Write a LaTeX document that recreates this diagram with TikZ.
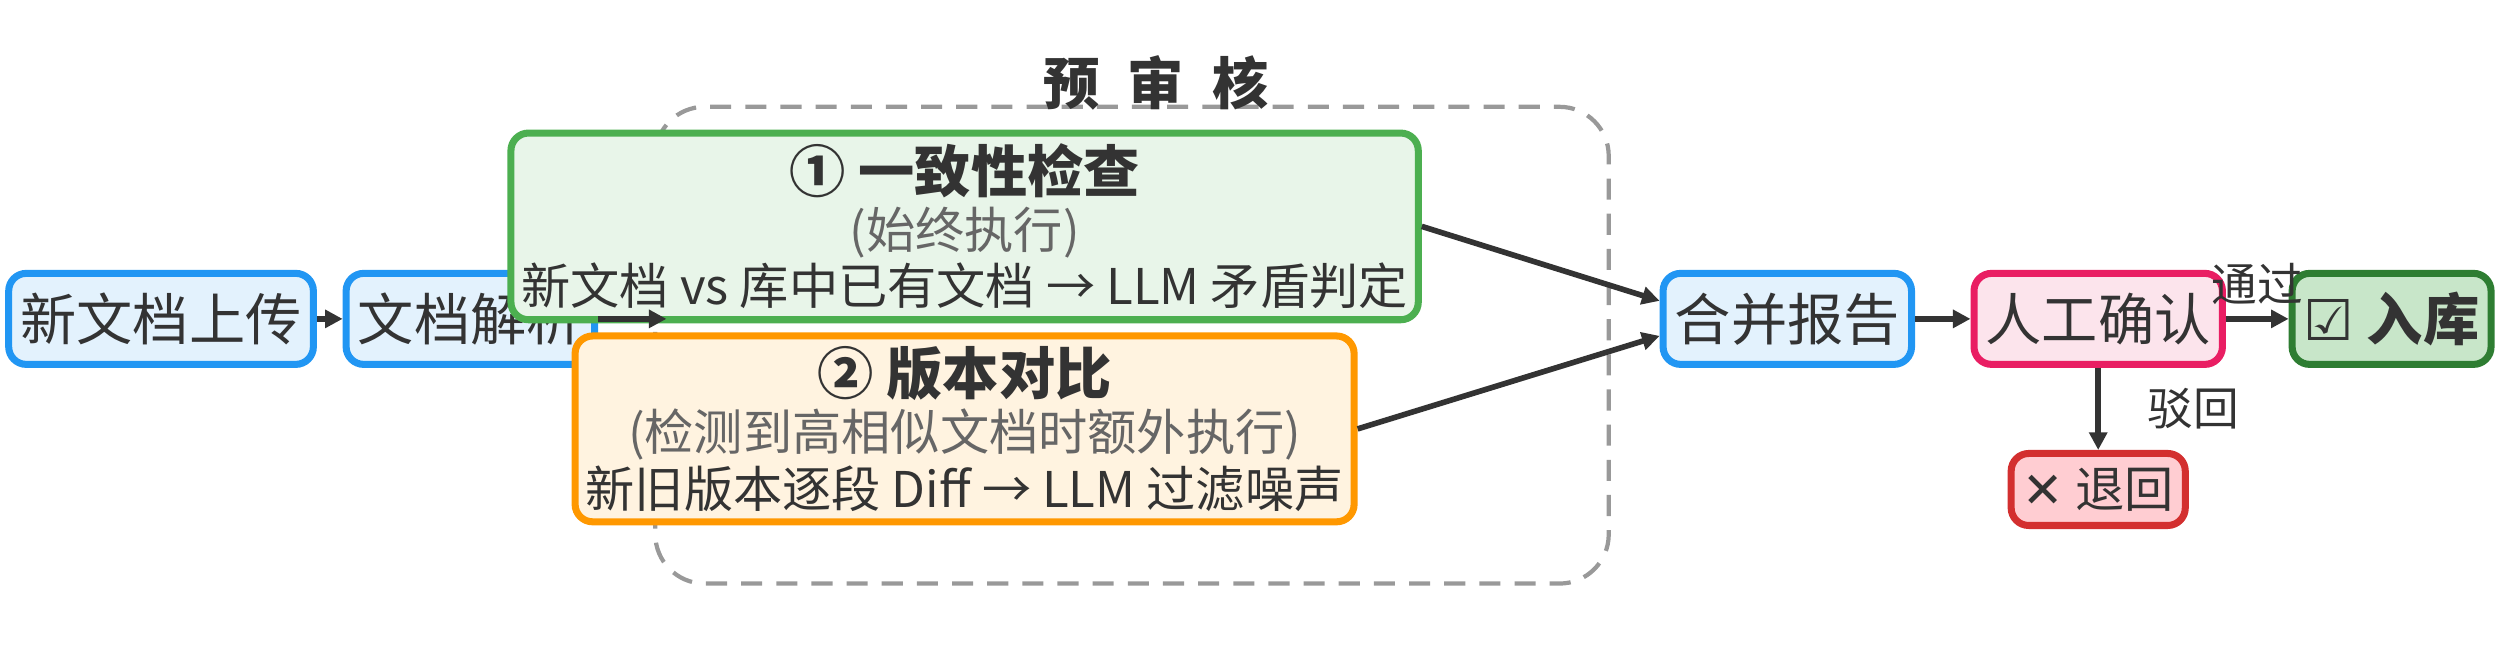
\documentclass[tikz,border=0pt]{standalone}
\usepackage{fontspec}
\setmainfont{Noto Sans CJK SC}
\newfontfamily\symfont{DejaVu Sans}
\usetikzlibrary{positioning,arrows.meta}
\definecolor{txtColor}{HTML}{333333}
\definecolor{subColor}{HTML}{666666}
\tikzset{>=Triangle,
  box/.style={draw, line width=2pt, rounded corners=5pt, align=center, text=txtColor, font=\fontsize{10}{12}\selectfont},
  flow/.style={->, line width=1.6pt, draw=txtColor, >={Triangle[length=5pt,width=5pt]}},
  lbl/.style={text=txtColor, font=\fontsize{8}{10}\selectfont}}
\begin{document}
\begin{tikzpicture}[x=1.594cm,y=1.594cm,every node/.style={transform shape},scale=1]
	\useasboundingbox (0,0) rectangle (15.68,-4.07);
	% stage box
	\draw[gray!80, dashed, line width=1.2pt, dash pattern=on 6pt off 4pt, rounded corners=14pt] (4.11,-0.67) rectangle (10.09,-3.66);
	\node[text=txtColor, font=\bfseries\fontsize{16}{18}\selectfont] (title) at (7.25,-0.52) {预\hspace{0.5em}审\hspace{0.5em}核};

	\node[box, draw={rgb,255:red,33;green,150;blue,243}, fill={rgb,255:red,227;green,242;blue,253}, minimum width=2.04cm, minimum height=0.91cm, font=\fontsize{16}{18}\selectfont] (up) at (1.01,-2.0) {新文档上传};
	\node[box, draw={rgb,255:red,33;green,150;blue,243}, fill={rgb,255:red,227;green,242;blue,253}, minimum width=2.02cm, minimum height=0.91cm, font=\fontsize{16}{18}\selectfont] (parse) at (2.95,-2.0) {文档解析};
	\coordinate (entry) at (4.18,-2.0);

	\node[box, draw={rgb,255:red,76;green,175;blue,80}, fill={rgb,255:red,232;green,245;blue,233}, minimum width=5.24cm, minimum height=1.43cm, font=\fontsize{16}{18}\selectfont, inner sep=3pt] (cons) at (6.05,-1.42)
		{\textbf{① 一致性检查}\\[-2pt]{\fontsize{14}{16}\selectfont\color{subColor}(始终执行)}\\[-2pt]{\fontsize{14}{16}\selectfont 新文档 vs 库中已有文档 → LLM 矛盾判定}};
	\node[box, draw={rgb,255:red,255;green,152;blue,0}, fill={rgb,255:red,255;green,243;blue,224}, minimum width=5.24cm, minimum height=1.43cm, font=\fontsize{16}{18}\selectfont, inner sep=3pt] (ver) at (6.05,-2.69)
		{\textbf{② 版本对比}\\[-2pt]{\fontsize{14}{16}\selectfont\color{subColor}(检测到高相似文档时额外执行)}\\[-2pt]{\fontsize{14}{16}\selectfont 新旧版本逐段 Diff → LLM 过滤噪声}};

	\node[box, draw={rgb,255:red,33;green,150;blue,243}, fill={rgb,255:red,227;green,242;blue,253}, minimum width=1.91cm, minimum height=0.91cm, font=\fontsize{16}{18}\selectfont] (merge) at (11.21,-2.0) {合并报告};
	\node[box, draw={rgb,255:red,233;green,30;blue,99}, fill={rgb,255:red,252;green,228;blue,236}, minimum width=1.91cm, minimum height=0.91cm, font=\fontsize{16}{18}\selectfont] (human) at (13.16,-2.0) {人工确认};
	\node[box, draw={rgb,255:red,46;green,125;blue,50}, fill={rgb,255:red,200;green,230;blue,201}, minimum width=1.82cm, minimum height=0.91cm, font=\fontsize{16}{18}\selectfont] (store) at (15.0,-2.0) {{\symfont ☑} \textbf{入库}};
	\node[box, draw={rgb,255:red,211;green,47;blue,47}, fill={rgb,255:red,255;green,205;blue,210}, minimum width=1.67cm, minimum height=0.72cm, font=\fontsize{14}{16}\selectfont] (back) at (13.16,-3.07) {{\symfont\bfseries ✕} 退回};

	\draw[flow] (up) -- (parse);
	\draw[flow] (parse) -- (entry);
	\draw[flow] (cons.east) -- ([yshift=0.18cm]merge.west);
	\draw[flow] (ver.east) -- ([yshift=-0.17cm]merge.west);
	\draw[flow] (merge) -- (human);
	\draw[flow] (human) -- node[lbl, above, font=\fontsize{13}{15}\selectfont] {通过} (store);
	\draw[flow] (human) -- node[lbl, right=10pt, font=\fontsize{13}{15}\selectfont] {驳回} (back);
\end{tikzpicture}
\end{document}
